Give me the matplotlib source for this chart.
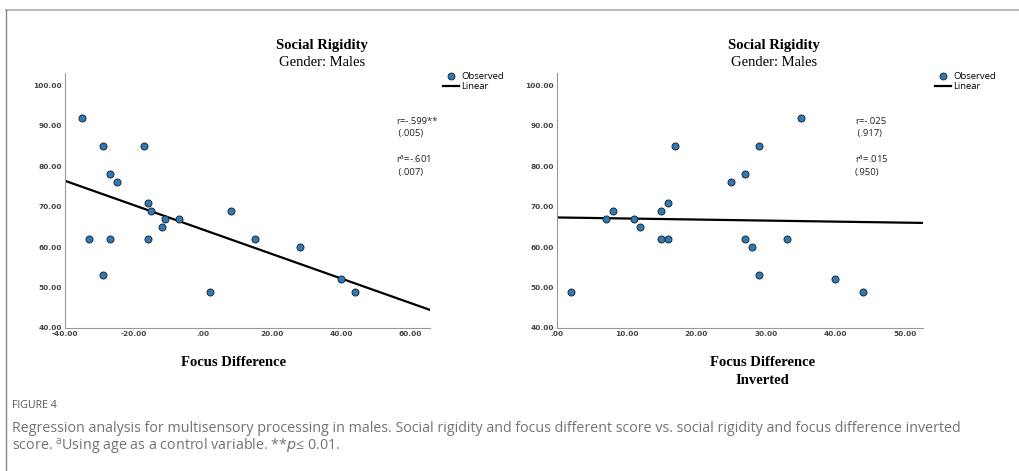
import numpy as np
import matplotlib
matplotlib.use("Agg")
import matplotlib.pyplot as plt
from matplotlib.lines import Line2D

# Data (20 males)
focus_diff = [-35, -29, -17, -27, -25, -33, -27, -16, -15, -11,
              -7, -12, -16, -29, 2, 8, 15, 28, 40, 44]
focus_inv = [35, 29, 17, 27, 25, 33, 27, 16, 15, 11,
             7, 12, 16, 29, 2, 8, 15, 28, 40, 44]
social_rig = [92, 85, 85, 78, 76, 62, 62, 71, 69, 67,
              67, 65, 62, 53, 49, 69, 62, 60, 52, 49]

left_ticks = [-40, -20, 0, 20, 40, 60]
right_ticks = [0, 10, 20, 30, 40, 50]
y_ticks = [40, 50, 60, 70, 80, 90, 100]

left_stats = ["r=-.599**", " (.005)", r"r$^\mathregular{a}$=-.601", " (.007)"]
right_stats = ["r=-.025", " (.917)", r"r$^\mathregular{a}$=.015", "(.950)"]

W, H = 1019, 471
DOT = "#2e7ab8"
TICKC = "#444444"
SERIF = "Liberation Serif"
SANS = "Open Sans"


def fmt(v):
    s = f"{abs(v):.2f}"
    if s.startswith("0"):
        s = s[1:]
    return ("-" if v < 0 else "") + s


def px_axes(fig, x0, x1, ytop, ybot):
    return fig.add_axes([x0 / W, 1 - ybot / H, (x1 - x0) / W, (ybot - ytop) / H])


def panel(ax, x, y, xlim, xticks):
    ax.scatter(x, y, s=26, color=DOT, edgecolor="#1a1a1a", linewidth=0.6, zorder=3)
    m, b = np.polyfit(x, y, 1)
    xs = np.array(xlim)
    ax.plot(xs, m * xs + b, color="black", lw=1.6, zorder=2)
    ax.set_xlim(*xlim)
    ax.set_ylim(40, 103)
    ax.set_xticks(xticks)
    ax.set_yticks(y_ticks)
    ax.set_xticklabels([fmt(v) for v in xticks])
    ax.set_yticklabels([fmt(v) for v in y_ticks])
    ax.tick_params(length=0, pad=2, labelsize=5.3, labelcolor=TICKC)
    for lab in ax.get_xticklabels() + ax.get_yticklabels():
        lab.set_fontweight("bold")
        lab.set_family("DejaVu Sans")
    for sp in ["top", "right"]:
        ax.spines[sp].set_visible(False)
    for sp in ["left", "bottom"]:
        ax.spines[sp].set_color("#999999")
        ax.spines[sp].set_linewidth(0.8)


def fx(px):
    return px / W


def fy(py):
    return 1 - py / H


fig = plt.figure(figsize=(W / 100, H / 100), dpi=100)

axl = px_axes(fig, 65, 430, 73, 328)
panel(axl, focus_diff, social_rig, (-40, 65.8), left_ticks)
axr = px_axes(fig, 557, 923, 73, 328)
panel(axr, focus_inv, social_rig, (0, 52.6), right_ticks)

# titles
for cx in (322, 774):
    fig.text(fx(cx), fy(45), "Social Rigidity", ha="center", va="center",
             family=SERIF, fontweight="bold", fontsize=10.5)
    fig.text(fx(cx), fy(63), "Gender: Males", ha="center", va="center",
             family=SERIF, fontsize=10.5)

# axis titles
fig.text(fx(234), fy(362), "Focus Difference", ha="center", va="center",
         family=SERIF, fontweight="bold", fontsize=10.5)
fig.text(fx(763), fy(362), "Focus Difference", ha="center", va="center",
         family=SERIF, fontweight="bold", fontsize=10.5)
fig.text(fx(762), fy(380), "Inverted", ha="center", va="center",
         family=SERIF, fontweight="bold", fontsize=10.5)

# legends
handles = [Line2D([], [], marker="o", ls="none", color=DOT, mec="#1a1a1a",
                  mew=0.6, ms=5),
           Line2D([], [], color="black", lw=1.6)]
for lx in (443, 935):
    fig.legend(handles, ["Observed", "Linear"], loc="upper left",
               bbox_to_anchor=(fx(lx), fy(72)), frameon=False,
               handlelength=1.7, handletextpad=0.2, labelspacing=0.12,
               borderpad=0, borderaxespad=0,
               prop={"family": SANS, "size": 6.8})

# correlation notes
for x0, texts in ((396, left_stats), (855, right_stats)):
    ys = [121, 134, 159, 173]
    for yy, t in zip(ys, texts):
        fig.text(fx(x0), fy(yy), t, ha="left", va="center",
                 family=SANS, fontsize=6.8, color="#222222")

# caption
fig.text(fx(12), fy(406), "FIGURE 4", ha="left", va="center",
         family=SANS, fontsize=7.6, color="#555555")
fig.text(fx(12), fy(432),
         "Regression analysis for multisensory processing in males. Social rigidity and focus different score vs. social rigidity and focus difference inverted",
         ha="left", va="baseline", family=SANS, fontsize=10.3, color="#737373")
fig.text(fx(12), fy(451),
         "score. $^\\mathregular{a}$Using age as a control variable. **$p$\u2264 0.01.",
         ha="left", va="baseline", family=[SANS, "DejaVu Sans"], fontsize=10.3,
         color="#737373")

# frame lines
fig.add_artist(Line2D([fx(6), 1], [fy(10), fy(10)], color="#bbbbbb", lw=1.5))
fig.add_artist(Line2D([fx(6), fx(6)], [fy(10), 0], color="#888888", lw=1.0))

fig.savefig("out.png", dpi=100)
